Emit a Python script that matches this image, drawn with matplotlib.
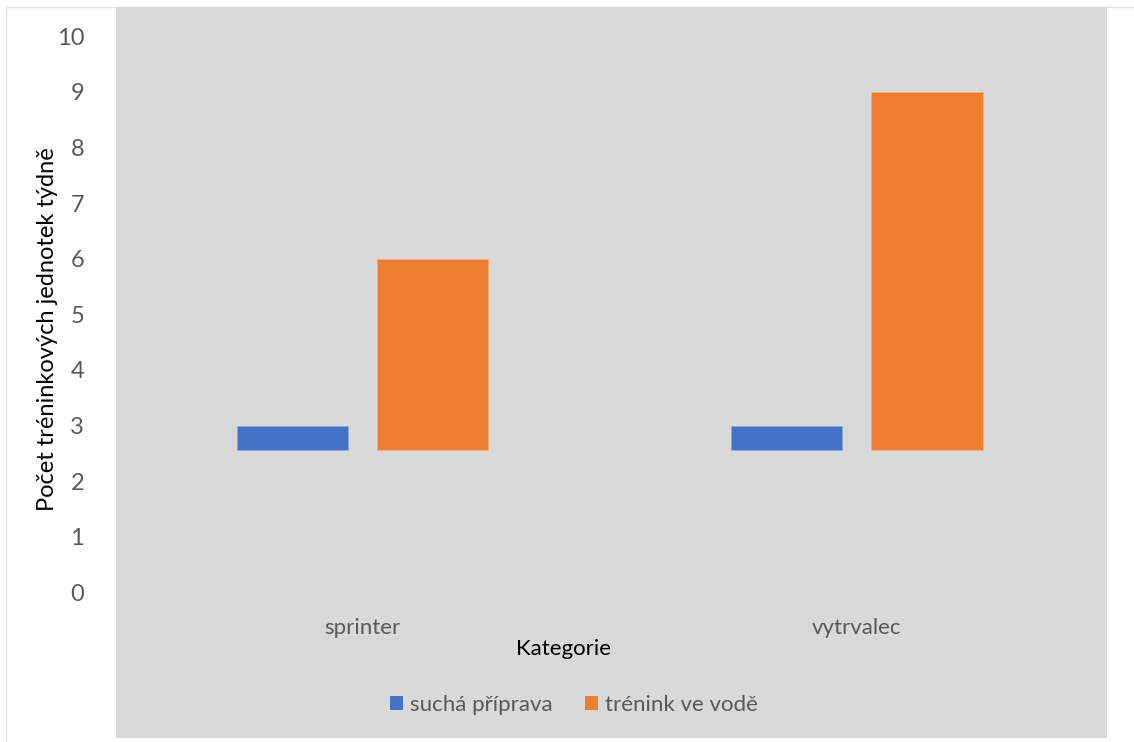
import matplotlib
matplotlib.use("Agg")
import matplotlib.pyplot as plt
from matplotlib.patches import Rectangle
import numpy as np

# Data
categories = ["sprinter", "vytrvalec"]
series_names = ["suchá příprava", "trénink ve vodě"]
sucha_priprava = [3, 3]
trenink_ve_vode = [6, 9]
bar_base = 2.56
y_ticks = [0, 1, 2, 3, 4, 5, 6, 7, 8, 9, 10]

colors = ["#4472C4", "#ED7D31"]
edge_colors = ["#8EA9DB", "#F4B183"]
plot_bg = "#D9D9D9"
text_grey = "#595959"

plt.rcParams["font.family"] = ["Lato", "DejaVu Sans"]

W, H = 1134, 742
fig = plt.figure(figsize=(W / 100, H / 100), dpi=100)
fig.patch.set_facecolor("white")

# light outer border of the chart area
fig.patches.append(Rectangle((6 / W, -0.01), 1.1, (H - 7) / H + 0.01,
                             transform=fig.transFigure, facecolor="none",
                             edgecolor="#E3E3E3", linewidth=1.0, zorder=-2))
# grey plot background
fig.patches.append(Rectangle((116 / W, 4 / H), (1107 - 116) / W, (738 - 7) / H,
                             transform=fig.transFigure, facecolor=plot_bg,
                             edgecolor="none", zorder=-1))

ax_left = 116 / W
ax_right = 1107 / W
ax_bottom = (H - 592.5) / H
ax_top = (H - 36.2) / H
ax = fig.add_axes([ax_left, ax_bottom, ax_right - ax_left, ax_top - ax_bottom])
ax.set_facecolor("none")
ax.set_zorder(1)

x = np.arange(len(categories))
width = 0.225
offset = 0.1425
for i, (vals, name) in enumerate(zip([sucha_priprava, trenink_ve_vode], series_names)):
    pos = x + (-offset if i == 0 else offset)
    heights = [v - bar_base for v in vals]
    ax.bar(pos, heights, width, bottom=bar_base, color=colors[i],
           edgecolor=edge_colors[i], linewidth=0.6, label=name, zorder=3)

ax.set_xlim(-0.499, 1.507)
ax.set_ylim(0, 10)
ax.set_yticks(y_ticks)
ax.set_yticklabels([str(t) for t in y_ticks])
ax.tick_params(axis="y", length=0, pad=23, labelsize=17, labelcolor=text_grey)
ax.set_xticks([])
for s in ax.spines.values():
    s.set_visible(False)

# category labels under the groups
for xi, cat in zip(x, categories):
    ax.annotate(cat, xy=(xi, 0), xycoords=("data", "axes fraction"),
                xytext=(0, -35), textcoords="offset pixels",
                ha="center", va="center", fontsize=16, color=text_grey)

fig.text(564 / W, (H - 649) / H, "Kategorie", ha="center", va="center",
         fontsize=16, color="black")
fig.text(48 / W, (H - 329) / H, "Počet tréninkových jednotek týdně",
         rotation=90, ha="center", va="center", fontsize=17, color="black")

leg = fig.legend(loc="center", bbox_to_anchor=(574 / W, (H - 705) / H),
                 ncol=2, frameon=False, fontsize=16, handlelength=0.6,
                 handleheight=0.6, handletextpad=0.3, columnspacing=1.45,
                 labelcolor=text_grey)
for h in leg.legend_handles:
    h.set_edgecolor("none")

fig.savefig("out.png", dpi=100)
